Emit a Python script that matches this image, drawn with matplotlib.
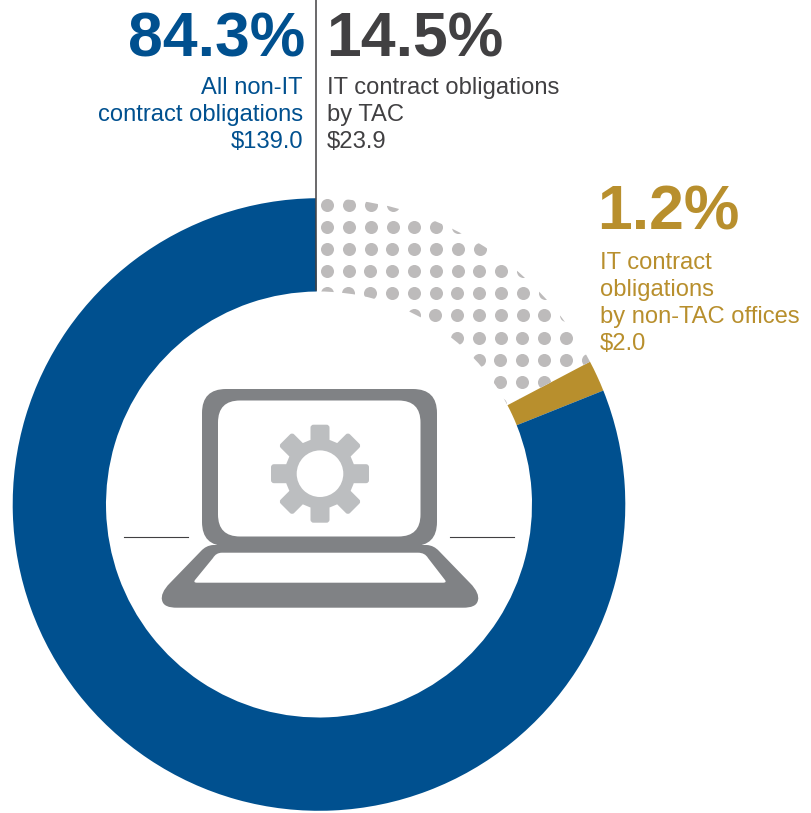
import numpy as np
import matplotlib
matplotlib.use('Agg')
import matplotlib.pyplot as plt
from matplotlib.patches import Circle, FancyBboxPatch, PathPatch
from matplotlib.path import Path
from matplotlib.transforms import Affine2D

plt.rcParams['font.family'] = ['Liberation Sans', 'DejaVu Sans']

# slice sizes as drawn in the picture (the drawn ring is not to scale with the labels)
slice_names = ['IT by TAC', 'IT by non-TAC', 'Non-IT']
slice_sizes = [17.45, 1.65, 80.9]

percent_labels = ['84.3%', '14.5%', '1.2%']
blue_lines = ['All non-IT', 'contract obligations', '$139.0']
dark_lines = ['IT contract obligations', 'by TAC', '$23.9']
gold_lines = ['IT contract', 'obligations', 'by non-TAC offices', '$2.0']

BLUE = '#00508F'
GOLD = '#B88F2D'
DARK = '#414042'
DOT = '#BDBBBB'
LAPTOP = '#808285'
GEAR = '#BCBEC0'

W, H = 812, 813
CX, CY = 319, 504.5
R_OUT, R_IN = 306.3, 213


# picture rows run downward, the axes run upward
def py(y):
    return H - y


def shape(cmds):
    # list of (code, x, y) in picture pixels -> filled patch
    verts = [(x, py(y)) for _, x, y in cmds]
    codes = [c for c, _, _ in cmds]
    return Path(verts, codes)


M, L, C3, C4 = Path.MOVETO, Path.LINETO, Path.CURVE3, Path.CURVE4

fig = plt.figure(figsize=(W / 100, H / 100), dpi=100)
ax = fig.add_axes([0, 0, 1, 1])

wedges, _ = ax.pie(slice_sizes, colors=['none', GOLD, BLUE], startangle=90.6, counterclock=False,
                   center=(CX, py(CY)), radius=R_OUT,
                   wedgeprops={'width': R_OUT - R_IN, 'linewidth': 0})
ax.set_xlim(0, W)
ax.set_ylim(0, H)
ax.set_aspect('equal')
ax.axis('off')

# dot pattern in the first slice, clipped to the ring
ii, jj = np.meshgrid(np.arange(0, 14), np.arange(0, 11))
dot_x = 327.5 + 21.8 * ii - 0.2 * jj
dot_y = 205 + 22.1 * jj
dots = ax.scatter(dot_x.ravel(), py(dot_y.ravel()), s=88, color=DOT, linewidths=0, zorder=2)
dots.set_clip_path(wedges[0])

# divider lines
ax.plot([316, 316], [py(0), py(290)], color=DARK, lw=1.1, zorder=3)
ax.plot([124, 188], [py(537), py(537)], color=DARK, lw=0.8)
ax.plot([450, 514], [py(537), py(537)], color=DARK, lw=0.8)

# laptop screen
ax.add_patch(FancyBboxPatch((202, py(546)), 235, 157, boxstyle='round,pad=0,rounding_size=24',
                            fc=LAPTOP, ec='none', zorder=3))
ax.add_patch(FancyBboxPatch((218, py(536.5)), 202.5, 136, boxstyle='round,pad=0,rounding_size=22',
                            fc='white', ec='none', zorder=4))

# laptop base
base = [(M, 213, 545), (C3, 206, 545.5), (C3, 201, 551), (L, 170, 583),
        (C4, 163, 590), (C4, 161, 596), (C4, 162, 600),
        (C4, 163, 606), (C4, 169, 607.7), (C4, 177, 607.7),
        (L, 463, 607.7), (C4, 471, 607.7), (C4, 477, 606), (C4, 478, 600),
        (C4, 479, 596), (C4, 477, 590), (C4, 470, 583),
        (L, 439, 551), (C3, 434, 545.5), (C3, 427, 545), (L, 213, 545)]
ax.add_patch(PathPatch(shape(base), fc=LAPTOP, ec='none', zorder=3))
keys = [(M, 222, 552.7), (L, 418, 552.7), (C3, 425, 552.7), (C3, 428, 558),
        (L, 445, 580), (C3, 447, 582.7), (C3, 443, 582.7), (L, 197, 582.7),
        (C3, 193, 582.7), (C3, 195, 580), (L, 213, 558), (C3, 216, 552.7), (C3, 222, 552.7)]
ax.add_patch(PathPatch(shape(keys), fc='white', ec='none', zorder=4))

# gear on the screen
gx, gy = 320, py(473.7)
for angle in [0, 45, 90, 135]:
    tr = Affine2D().rotate_deg(angle).translate(gx, gy) + ax.transData
    ax.add_patch(FancyBboxPatch((-49, -9.5), 98, 19, boxstyle='round,pad=0,rounding_size=3',
                                fc=GEAR, ec='none', transform=tr, zorder=5))
ax.add_patch(Circle((gx, gy), 35, fc=GEAR, ec='none', zorder=5))
ax.add_patch(Circle((gx, gy), 23.3, fc='white', ec='none', zorder=6))

# labels
big = dict(fontsize=45, fontweight='bold', va='baseline')
ax.text(305, py(56), percent_labels[0], color=BLUE, ha='right', **big)
ax.text(326, py(56), percent_labels[1], color=DARK, ha='left', **big)
ax.text(597, py(229), percent_labels[2], color=GOLD, ha='left', **big)

for i, s in enumerate(blue_lines):
    ax.text(303, py(93.5 + 27.3 * i), s, color=BLUE, fontsize=17.1, ha='right', va='baseline')
for i, s in enumerate(dark_lines):
    ax.text(327, py(93.5 + 27.3 * i), s, color=DARK, fontsize=17.1, ha='left', va='baseline')
for i, s in enumerate(gold_lines):
    ax.text(600, py(269 + 27 * i), s, color=GOLD, fontsize=17.1, ha='left', va='baseline')

fig.savefig('out.png', dpi=100, facecolor='white')
